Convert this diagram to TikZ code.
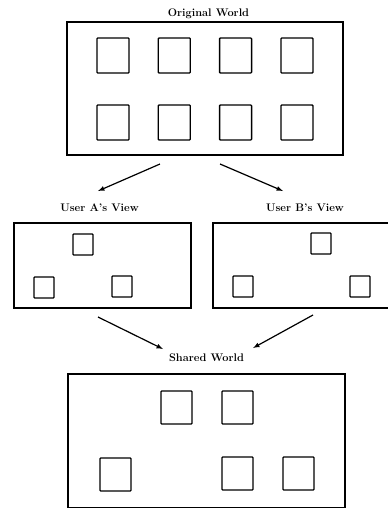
\documentclass[tikz,border=0pt]{standalone}
\usepackage{tikz}
\usetikzlibrary{positioning}
\usetikzlibrary{calc}
\tikzset{
	world/.style={draw=black,line width=1.1pt},
	obj/.style={draw=black,line width=1.3pt,rounded corners=0.8pt},
	lbl/.style={font=\fontsize{11}{13}\selectfont\bfseries,inner sep=0pt},
	fl/.style={line width=1.2pt,-latex}
}

\begin{document}
\begin{tikzpicture}[x=1pt,y=-1pt]
				\useasboundingbox (0,0) rectangle (388,509);
				\clip (0,0) rectangle (388,509); % right view runs off the page
				
				%Titres
				\node[lbl] (orig) at (208.5,14) {Original World};
				\node[lbl] (viewA) at (99.5,208) {User A's View};
				\node[lbl] (viewB) at (305,208) {User B's View};
				\node[lbl] (shared) at (206.5,358) {Shared World};
				
				%Cadres
				\draw[world] (67,22) rectangle (343,155);
				\draw[world] (14,223) rectangle (191,308);
				\draw[world] (213,223) rectangle (392,308);
				\draw[world] (68,374) rectangle (345,507.5);
				
				%Objets du monde original
				\foreach \i in {0,1,2,3}{
					\draw[obj] (97+61.3*\i,38) rectangle ++(32,35);
					\draw[obj] (97+61.3*\i,105) rectangle ++(32,35);
				}
				
				%Vue de A
				\foreach \x/\y in {73/234,34/277,112/276}{
					\draw[obj] (\x,\y) rectangle ++(20,21);
				}
				
				%Vue de B
				\foreach \x/\y in {311/233,233/276,350/276}{
					\draw[obj] (\x,\y) rectangle ++(20,21);
				}
				
				%Monde partage
				\foreach \x/\y in {161/391,222/391,100/458,222/457,283/457}{
					\draw[obj] (\x,\y) rectangle ++(31,33);
				}
				
				%Extremites des fleches
				\coordinate (oL) at (160,164);
				\coordinate (oR) at (220,164);
				\coordinate (tA) at (98,191);
				\coordinate (tB) at (283,191);
				\coordinate (aS) at (98,317);
				\coordinate (bS) at (313,315);
				\coordinate (sL) at (163,349);
				\coordinate (sR) at (253,348);
				
				%Fleches
				\draw[fl] (oL) -- (tA);
				\draw[fl] (oR) -- (tB);
				\draw[fl] (aS) -- (sL);
				\draw[fl] (bS) -- (sR);
				
			\end{tikzpicture}
\end{document}
